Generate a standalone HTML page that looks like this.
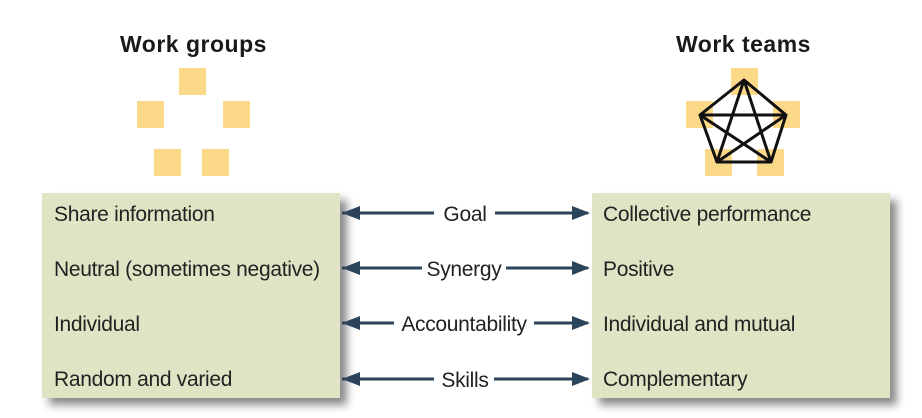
<!DOCTYPE html>
<html><head><style>
body{margin:0;width:922px;height:418px;background:#fff;overflow:hidden;position:relative;font-family:"Liberation Sans",sans-serif}
.h{position:absolute;font-weight:bold;font-size:23px;color:#1a1a1a}
.box{position:absolute;top:193px;width:298px;height:205px;background:#e0e4c4;box-shadow:7px 7px 8px rgba(0,0,0,0.45)}
.t{position:absolute;font-size:21px;color:#222;white-space:nowrap;letter-spacing:-0.3px}
.sq{position:absolute;width:27px;height:27px;background:#fcd988}
</style></head><body>
<div class="h" style="left:120px;top:31px;letter-spacing:0.5px">Work groups</div>
<div class="h" style="left:676px;top:31px;letter-spacing:0.5px">Work teams</div>
<div class="sq" style="left:179px;top:68px"></div>
<div class="sq" style="left:137px;top:101px"></div>
<div class="sq" style="left:223px;top:101px"></div>
<div class="sq" style="left:154px;top:149px"></div>
<div class="sq" style="left:202px;top:149px"></div>
<div class="sq" style="left:731px;top:68px"></div>
<div class="sq" style="left:686px;top:101px"></div>
<div class="sq" style="left:773px;top:101px"></div>
<div class="sq" style="left:705px;top:149px"></div>
<div class="sq" style="left:757px;top:149px"></div>
<svg style="position:absolute;left:0;top:0" width="922" height="418">
<g stroke="#111" stroke-width="3" fill="none" stroke-linejoin="round">
<polygon points="744,80 786,115 771,162 717,162 700,115"/>
<polygon points="744,80 771,162 700,115 786,115 717,162"/>
</g>
</svg>
<div class="box" style="left:42px"></div>
<div class="box" style="left:592px"></div>
<div class="t" style="left:54px;top:203px">Share information</div>
<div class="t" style="left:54px;top:258px">Neutral (sometimes negative)</div>
<div class="t" style="left:54px;top:313px">Individual</div>
<div class="t" style="left:54px;top:368px">Random and varied</div>
<div class="t" style="left:603px;top:203px">Collective performance</div>
<div class="t" style="left:603px;top:258px">Positive</div>
<div class="t" style="left:603px;top:313px">Individual and mutual</div>
<div class="t" style="left:603px;top:368px">Complementary</div>
<svg style="position:absolute;left:0;top:0" width="922" height="418">
<g stroke="#2b4459" stroke-width="3" fill="none">
<path d="M342,213 H434 M495,213 H588" />
<path d="M342,268 H422 M506,268 H588" />
<path d="M342,323 H394 M534,323 H588" />
<path d="M342,379 H434 M494,379 H588" />
</g>
<g fill="#2b4459">
<path d="M342,213 l18,-7 v14z M590,213 l-18,-7 v14z"/>
<path d="M342,268 l18,-7 v14z M590,268 l-18,-7 v14z"/>
<path d="M342,323 l18,-7 v14z M590,323 l-18,-7 v14z"/>
<path d="M342,379 l18,-7 v14z M590,379 l-18,-7 v14z"/>
</g>
<g font-family="Liberation Sans,sans-serif" font-size="21" fill="#222" text-anchor="middle" letter-spacing="-0.3">
<text x="465" y="221">Goal</text>
<text x="464" y="276">Synergy</text>
<text x="464" y="331">Accountability</text>
<text x="465" y="387">Skills</text>
</g>
</svg>
</body></html>
